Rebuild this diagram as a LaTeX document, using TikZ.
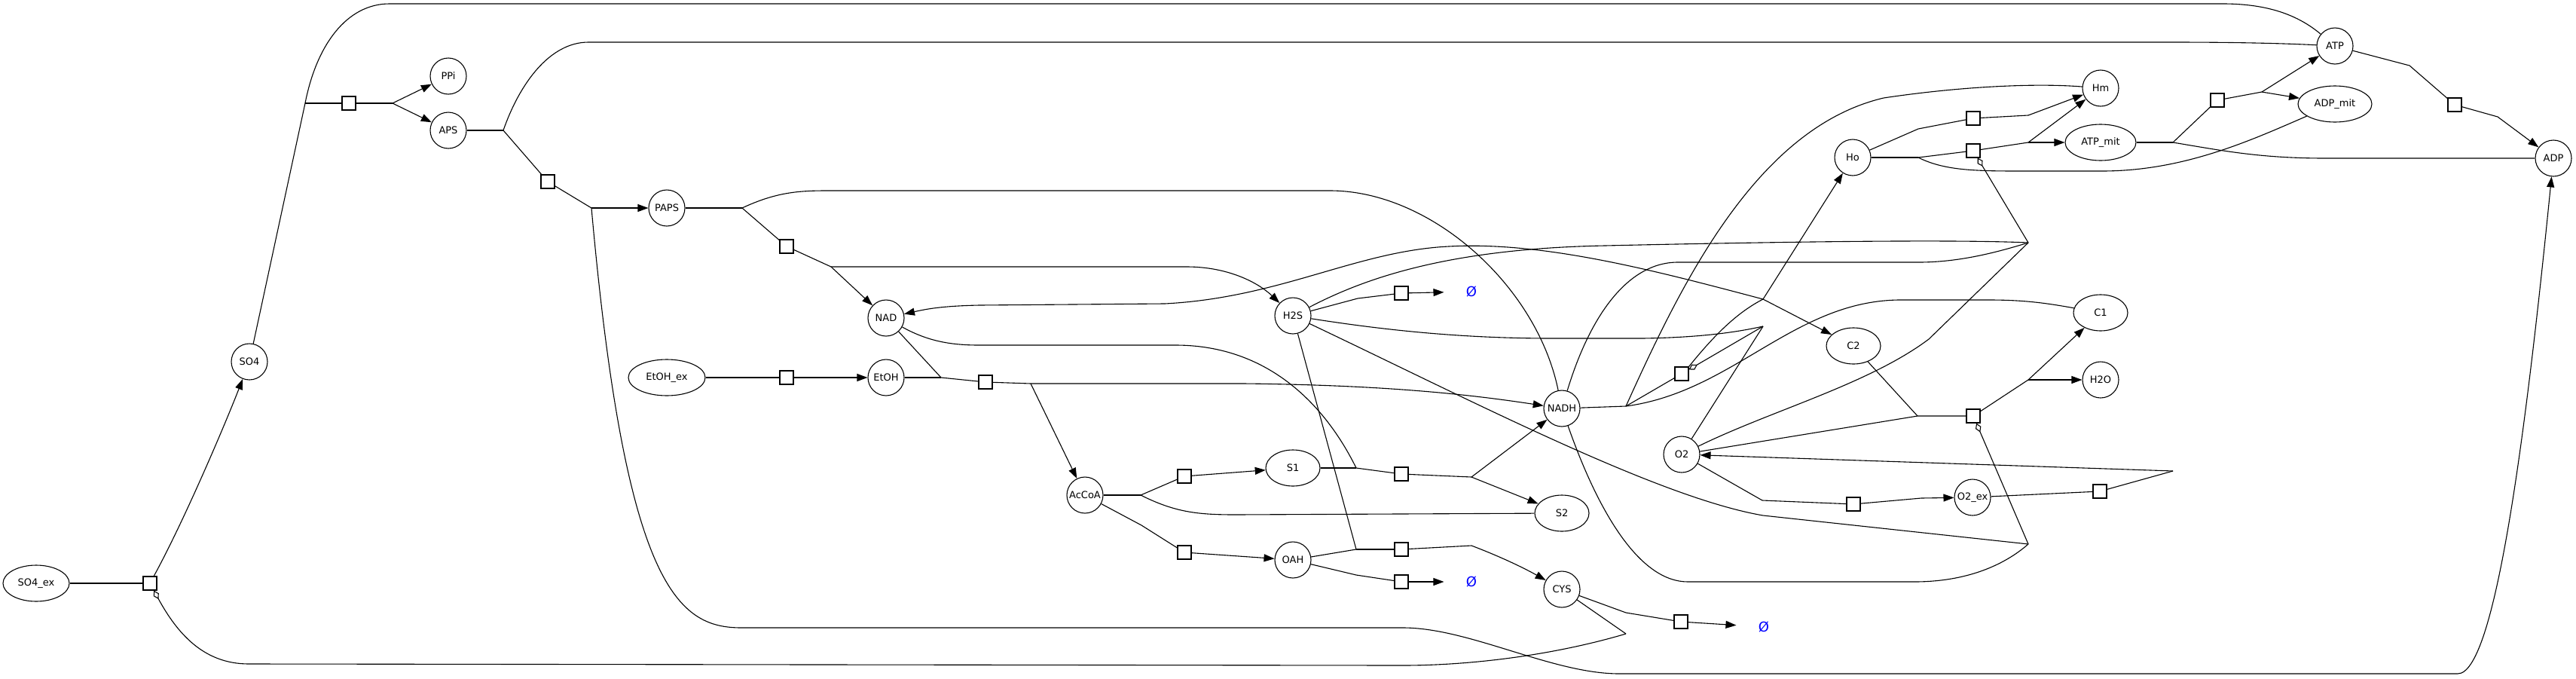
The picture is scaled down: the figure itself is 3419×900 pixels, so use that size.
\documentclass[tikz,border=0pt]{standalone}
\usepackage{fontspec}
\setmainfont{DejaVu Sans}
\usetikzlibrary{arrows.meta,shapes.geometric}
\begin{document}
\begin{tikzpicture}[x=1pt,y=-1pt,line width=1.1pt,
  species/.style={draw,circle,minimum size=48pt,inner sep=0pt,font=\fontsize{13}{15}\selectfont},
  speciesE/.style={draw,ellipse,minimum height=48pt,inner sep=0pt,font=\fontsize{13}{15}\selectfont},
  reaction/.style={draw,rectangle,minimum size=18pt,inner sep=0pt,fill=white},
  emptyset/.style={text=blue,font=\fontsize{18}{20}\selectfont,minimum width=72pt,minimum height=20pt,inner sep=0pt},
  prod/.style={-{Triangle[length=14pt,width=10pt]}},
  modif/.style={-{Diamond[open,length=13pt,width=8pt]}}]
\useasboundingbox (0,0) rectangle (3419,900);
% species
\node[speciesE,minimum width=88pt] (SOex) at (48,774) {SO4\_ex};
\node[species] (SO) at (331,480) {SO4};
\node[species] (PPi) at (595,101) {PPi};
\node[species] (APS) at (595,173) {APS};
\node[species] (PAPS) at (885,276) {PAPS};
\node[species] (NAD) at (1176,422) {NAD};
\node[speciesE,minimum width=102pt] (EtOHex) at (885,501) {EtOH\_ex};
\node[species] (EtOH) at (1176,501) {EtOH};
\node[species] (HS) at (1716,419) {H2S};
\node[species] (AcCoA) at (1440,657) {AcCoA};
\node[speciesE,minimum width=72pt] (S1) at (1716,621) {S1};
\node[speciesE,minimum width=72pt] (S2) at (2073,681) {S2};
\node[species] (OAH) at (1716,743) {OAH};
\node[species] (CYS) at (2073,782) {CYS};
\node[species] (NADH) at (2073,542) {NADH};
\node[species] (O2) at (2232,603) {O2};
\node[species] (O2ex) at (2618,660) {O2\_ex};
\node[speciesE,minimum width=72pt] (C2) at (2460,459) {C2};
\node[speciesE,minimum width=72pt] (C1) at (2788,415) {C1};
\node[species] (H2O) at (2788,504) {H2O};
\node[species] (Ho) at (2459,209) {Ho};
\node[species] (Hm) at (2788,117) {Hm};
\node[speciesE,minimum width=94pt] (ATPmit) at (2788,189) {ATP\_mit};
\node[speciesE,minimum width=98pt] (ADPmit) at (3099,138) {ADP\_mit};
\node[species] (ATP) at (3099,61) {ATP};
\node[species] (ADP) at (3389,210) {ADP};
% reactions
\node[reaction] (rSO) at (199,774) {};
\node[reaction] (rA) at (463,137) {};
\node[reaction] (rB) at (727,241) {};
\node[reaction] (rC) at (1044,327) {};
\node[reaction] (rHdeg) at (1860,389) {};
\node[reaction] (rEt) at (1044,501) {};
\node[reaction] (rADH) at (1308,507) {};
\node[reaction] (rS1) at (1572,632) {};
\node[reaction] (rOAH) at (1572,733) {};
\node[reaction] (rS2) at (1860,629) {};
\node[reaction] (rCYS) at (1860,729) {};
\node[reaction] (rOdeg) at (1860,772) {};
\node[reaction] (rCdeg) at (2231,825) {};
\node[reaction] (rCI) at (2232,496) {};
\node[reaction] (rCIV) at (2619,552) {};
\node[reaction] (rO2in) at (2787,652) {};
\node[reaction] (rO2out) at (2460,669) {};
\node[reaction] (rLeak) at (2619,157) {};
\node[reaction] (rSyn) at (2619,200) {};
\node[reaction] (rANT) at (2943,133) {};
\node[reaction] (rATPase) at (3258,139) {};
% sinks
\node[emptyset] (N1) at (1953,387) {Ø};
\node[emptyset] (N2) at (1953,772) {Ø};
\node[emptyset] (N3) at (2341,832) {Ø};
% junctions
\coordinate (j2in) at (405,137);
\coordinate (j2out) at (521,137);
\coordinate (j3in) at (668,173);
\coordinate (j3out) at (785,276);
\coordinate (j4in) at (985,276);
\coordinate (j4out) at (1103,354);
\coordinate (jEin) at (1249,501);
\coordinate (jEout) at (1368,509);
\coordinate (jS1in) at (1514,657);
\coordinate (jS2in) at (1800,621);
\coordinate (jS2out) at (1953,633);
\coordinate (jCin) at (1800,729);
\coordinate (jCmod) at (2158,841);
\coordinate (jCIin) at (2158,539);
\coordinate (jCIout) at (2340,397);
\coordinate (jCImod) at (2340,433);
\coordinate (jCIVin) at (2545,552);
\coordinate (jCIVout) at (2692,504);
\coordinate (jCIVmod) at (2692,722);
\coordinate (jO2in) at (2884,625);
\coordinate (jSYNin) at (2546,209);
\coordinate (jSYNout) at (2692,189);
\coordinate (jSYNmod) at (2692,322);
\coordinate (jANTin) at (2884,189);
\coordinate (jANTout) at (3002,122);
% SO4 transport
\draw (SOex) -- (rSO);
\draw[prod] (rSO) .. controls (245,690) and (300,560) .. (SO);
% ATP sulfurylase
\draw (SO) -- (j2in);
\draw (j2in) .. controls (420,60) and (460,5) .. (517,5) -- (2950,5) .. controls (3010,5) and (3050,20) .. (ATP);
\draw (j2in) -- (rA) -- (j2out);
\draw[prod] (j2out) -- (PPi);
\draw[prod] (j2out) -- (APS);
% APS kinase
\draw (APS) -- (j3in);
\draw (j3in) .. controls (690,110) and (730,56) .. (781,56) -- (2880,56) .. controls (2980,56) and (3040,58) .. (ATP);
\draw (j3in) -- (rB) -- (j3out);
\draw[prod] (j3out) -- (PAPS);
\draw[prod] (j3out) .. controls (830,780) and (900,833) .. (984,833) -- (1862,833) .. controls (1950,833) and (2060,894) .. (2149,894) -- (3262,894) .. controls (3310,894) and (3350,600) .. (ADP);
% PAPS reductase
\draw (PAPS) -- (j4in);
\draw (j4in) .. controls (1030,255) and (1060,253) .. (1098,253) -- (1765,253) .. controls (1900,253) and (2040,380) .. (NADH);
\draw (j4in) -- (rC) -- (j4out);
\draw[prod] (j4out) -- (NAD);
\draw[prod] (j4out) -- (1575,354) .. controls (1630,354) and (1670,375) .. (HS);
% ethanol
\draw (EtOHex) -- (rEt);
\draw[prod] (rEt) -- (EtOH);
\draw (EtOH) -- (jEin);
\draw (NAD) -- (jEin);
\draw (jEin) -- (rADH) -- (jEout);
\draw[prod] (jEout) -- (AcCoA);
\draw[prod] (jEout) -- (1650,509) .. controls (1850,511) and (1960,525) .. (NADH);
% AcCoA + S2 -> S1
\draw (AcCoA) -- (jS1in);
\draw (jS1in) .. controls (1560,680) and (1590,683) .. (1640,683) -- (S2);
\draw (jS1in) -- (rS1);
\draw[prod] (rS1) -- (S1);
% AcCoA -> OAH
\draw (AcCoA) -- (1515,697) -- (rOAH);
\draw[prod] (rOAH) -- (OAH);
% S1 + NAD -> S2 + NADH
\draw (S1) -- (jS2in);
\draw (NAD) .. controls (1230,452) and (1260,458) .. (1299,458) -- (1560,458) .. controls (1700,458) and (1770,560) .. (jS2in);
\draw (jS2in) -- (rS2) -- (jS2out);
\draw[prod] (jS2out) -- (NADH);
\draw[prod] (jS2out) -- (S2);
% OAH + H2S -> CYS
\draw (OAH) -- (jCin);
\draw (HS) -- (jCin);
\draw (jCin) -- (rCYS);
\draw[prod] (rCYS) -- (1953,724) .. controls (1995,740) and (2025,755) .. (CYS);
% degradations
\draw (OAH) -- (1800,763) -- (rOdeg);
\draw[prod] (rOdeg) -- (N2);
\draw (HS) -- (1802,396) -- (rHdeg);
\draw[prod] (rHdeg) -- (N1);
\draw (CYS) -- (2158,813) -- (rCdeg);
\draw[prod] (rCdeg) -- (N3);
% CYS modifies SO4 transport
\draw (CYS) -- (jCmod);
\draw[modif] (jCmod) .. controls (2060,870) and (1950,883) .. (1862,883) -- (330,881) .. controls (270,881) and (235,840) .. (rSO);
% complex I
\draw (NADH) -- (jCIin);
\draw (jCIin) .. controls (2230,380) and (2330,170) .. (2500,130) .. controls (2600,115) and (2700,110) .. (Hm);
\draw (jCIin) .. controls (2300,520) and (2380,400) .. (2520,398) -- (2640,398) .. controls (2690,398) and (2720,403) .. (C1);
\draw (jCIin) -- (rCI);
\draw (rCI.north east) .. controls (2275,445) and (2305,415) .. (jCIout);
\draw[prod] (jCIout) -- (Ho);
\draw[prod] (jCIout) -- (C2);
\draw[prod] (jCIout) .. controls (2200,360) and (2050,320) .. (1923,327) .. controls (1800,333) and (1700,395) .. (1546,403) -- (1300,405) .. controls (1250,406) and (1230,410) .. (NAD);
\draw (HS) .. controls (1850,440) and (1950,449) .. (2060,449) -- (2180,449) .. controls (2250,448) and (2300,442) .. (jCImod);
\draw (O2) -- (jCImod);
\draw[modif] (jCImod) -- (rCI);
% complex IV
\draw (C2) -- (jCIVin);
\draw (O2) -- (jCIVin);
\draw (jCIVin) -- (rCIV) -- (jCIVout);
\draw[prod] (jCIVout) -- (C1);
\draw[prod] (jCIVout) -- (H2O);
\draw (HS) .. controls (1950,530) and (2200,660) .. (2340,684) -- (jCIVmod);
\draw (NADH) .. controls (2125,690) and (2180,772) .. (2240,772) -- (2541,772) .. controls (2610,772) and (2660,750) .. (jCIVmod);
\draw[modif] (jCIVmod) -- (rCIV);
% O2 transport
\draw (O2ex) -- (rO2in) -- (jO2in);
\draw[prod] (jO2in) -- (O2);
\draw[prod] (O2) -- (2339,664) -- (rO2out) -- (2550,661) -- (O2ex);
% ATP synthase
\draw (Ho) -- (jSYNin);
\draw (jSYNin) .. controls (2580,226) and (2620,227) .. (2680,227) -- (2790,227) .. controls (2900,227) and (2990,185) .. (ADPmit);
\draw (jSYNin) -- (rSyn) -- (jSYNout);
\draw[prod] (jSYNout) -- (ATPmit);
\draw[prod] (jSYNout) -- (Hm);
\draw (HS) .. controls (1810,370) and (1920,330) .. (2130,326) .. controls (2400,320) and (2600,318) .. (jSYNmod);
\draw (NADH) .. controls (2110,420) and (2160,348) .. (2227,348) -- (2547,348) .. controls (2600,348) and (2650,335) .. (jSYNmod);
\draw (O2) .. controls (2350,545) and (2480,510) .. (2560,450) -- (jSYNmod);
\draw[modif] (jSYNmod) -- (rSyn);
% proton leak
\draw[prod] (Ho) -- (2546,171) -- (rLeak) -- (2692,153) -- (Hm);
% ANT
\draw (ATPmit) -- (jANTin);
\draw (jANTin) .. controls (2950,200) and (3000,210) .. (3086,210) -- (ADP);
\draw (jANTin) -- (rANT) -- (jANTout);
\draw[prod] (jANTout) -- (ATP);
\draw[prod] (jANTout) -- (ADPmit);
% ATPase
\draw[prod] (ATP) -- (3198,87) -- (rATPase) -- (3315,155) -- (ADP);
\end{tikzpicture}
\end{document}
